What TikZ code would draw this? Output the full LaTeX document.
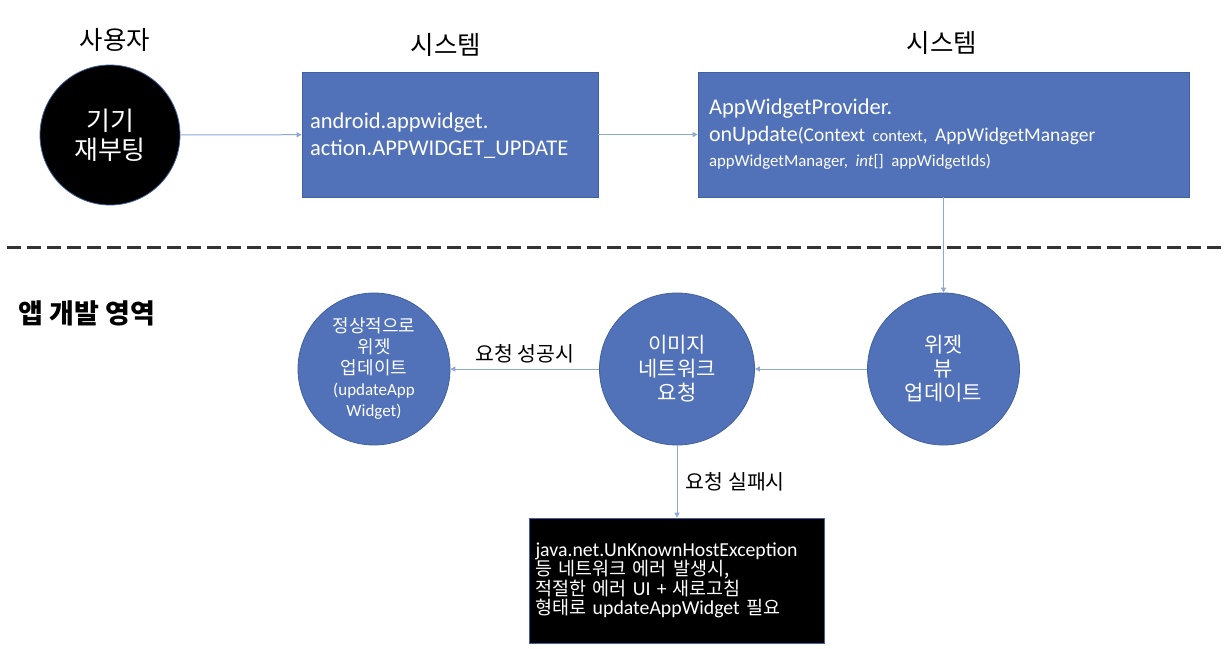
\documentclass[tikz,border=0pt]{standalone}
\usepackage{fontspec}
\setmainfont{Carlito}
\newfontfamily\kr{Noto Sans CJK KR}
\usetikzlibrary{arrows.meta,shapes.geometric}
\definecolor{boxblue}{HTML}{5171B9}
\definecolor{edgeblue}{HTML}{41609E}
\definecolor{linkblue}{HTML}{8DA8D8}
\begin{document}
\begin{tikzpicture}[x=1pt,y=-1pt,
  title/.style={font=\kr\fontsize{25.5}{30}\selectfont, text=black},
  bluebox/.style={draw=edgeblue, line width=0.8pt, fill=boxblue, text=white, rectangle, align=left, anchor=center},
  bluecirc/.style={draw=edgeblue, line width=0.8pt, fill=boxblue, text=white, ellipse, inner sep=0pt, align=center},
  link/.style={draw=linkblue, line width=1pt, -{Triangle[length=5pt,width=5pt]}},
  lbl/.style={font=\kr\fontsize{20.5}{24}\selectfont, text=black}
]
\useasboundingbox (0,0) rectangle (1230,648);
\fill[white] (0,0) rectangle (1230,648);

% titles
\node[title] (t1) at (115,40) {사용자};
\node[title] (t2) at (446,45) {시스템};
\node[title] (t3) at (942,43) {시스템};

% top row
\node[ellipse, draw=edgeblue, line width=0.8pt, fill=black, text=white, minimum width=140pt, minimum height=140pt, inner sep=0pt, align=center,
      font=\kr\fontsize{26}{29}\selectfont] (user) at (110,135) {기기\\재부팅};

\node[bluebox, minimum width=294pt, minimum height=125pt, text width=280pt, inner xsep=8pt,
      font=\fontsize{22.5}{27}\selectfont] (b1) at (450,134.5)
  {\rule{0pt}{19pt}android.appwidget.\\action.APPWIDGET\_UPDATE};

\node[bluebox, minimum width=491pt, minimum height=125pt, text width=469pt, inner xsep=11pt,
      font=\fontsize{22.5}{27}\selectfont] (b2) at (943.5,134.5)
  {AppWidgetProvider.\\[0pt]
   {\fontsize{22}{27}\selectfont onUpdate}{\fontsize{19.5}{27}\selectfont(Context {\fontsize{16.5}{27}\selectfont context}, AppWidgetManager}\\[-2pt]
   {\fontsize{16.8}{20}\selectfont appWidgetManager, \textit{int}[] appWidgetIds)}};

% divider
\draw[draw=black!80, line width=3pt, dash pattern=on 14pt off 6pt] (7,247) -- (1222,247);
\node[font=\kr\bfseries\fontsize{27}{30}\selectfont, text=black] (area) at (87,313) {앱 개발 영역};

% bottom row
\node[bluecirc, minimum width=152pt, minimum height=152pt, font=\kr\fontsize{21}{24}\selectfont] (c3) at (943.5,369) {위젯\\뷰\\업데이트};
\node[bluecirc, minimum width=155pt, minimum height=152pt, font=\kr\fontsize{21}{24}\selectfont] (c2) at (677,369) {이미지\\네트워크\\요청};
\node[bluecirc, minimum width=152pt, minimum height=152pt, font=\kr\fontsize{18}{21}\selectfont] (c1) at (374,369)
  {정상적으로\\위젯\\업데이트\\{\fontsize{17}{21}\selectfont\rmfamily (updateApp}\\{\fontsize{17}{21}\selectfont\rmfamily Widget)}};

\node[rectangle, draw=edgeblue, line width=0.8pt, fill=black, text=white, minimum width=295pt, minimum height=125pt,
      text width=283pt, inner xsep=6pt, align=left, font=\kr\fontsize{18.5}{19.5}\selectfont] (err) at (677,580.5)
  {{\rmfamily\fontsize{19.8}{19.5}\selectfont java.net.UnKnownHostException}\\
   등 네트워크 에러 발생시,\\
   적절한 에러 {\rmfamily\fontsize{19.8}{19.5}\selectfont UI +} 새로고침\\
   형태로 {\rmfamily\fontsize{19.8}{19.5}\selectfont updateAppWidget} 필요};

% connectors
\draw[link] (user) -- (b1);
\draw[link] (b1) -- (b2);
\draw[link] (b2.south) -- (c3.north);
\draw[link] (c3) -- (c2);
\draw[link] (c2) -- node[lbl, above=2pt] (ok) {요청 성공시} (c1);
\draw[link] (c2.south) -- node[lbl, right=5pt] (fail) {요청 실패시} (err.north);
\end{tikzpicture}
\end{document}
